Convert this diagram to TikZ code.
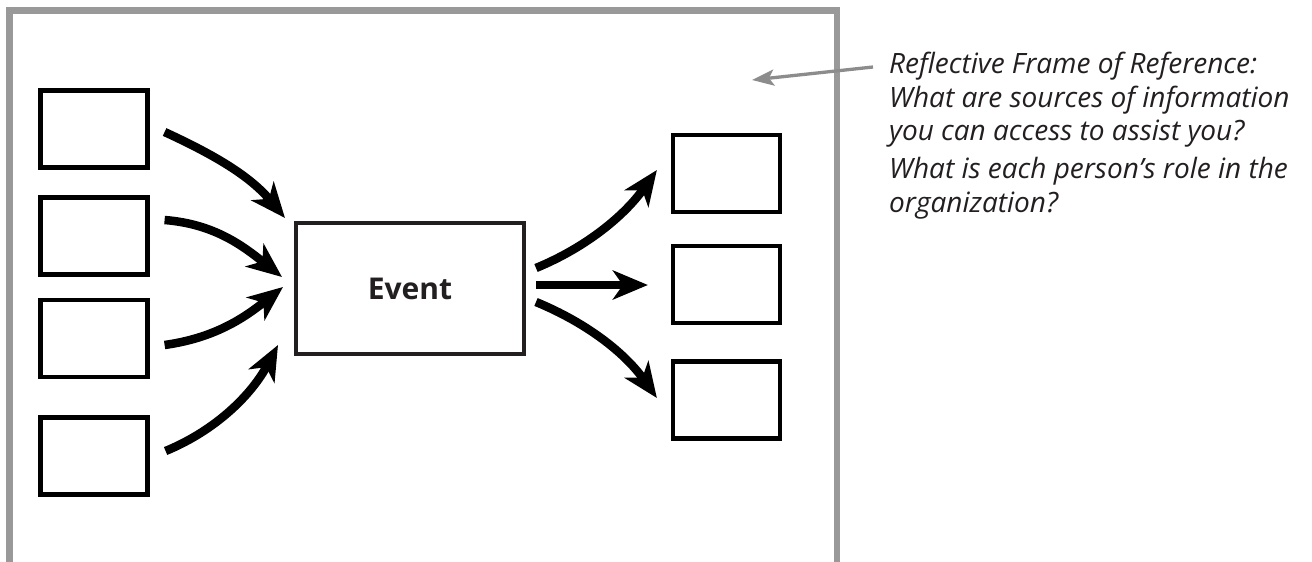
\documentclass[tikz,border=0pt]{standalone}
\usepackage{fontspec}
\setmainfont{Open Sans}
\usetikzlibrary{arrows.meta,calc}
\definecolor{framegray}{RGB}{153,153,153}
\definecolor{arrowgray}{RGB}{140,140,140}
\definecolor{boxblack}{RGB}{35,31,32}
\begin{document}
\begin{tikzpicture}[x=1pt,y=-1pt,
  smallbox/.style={draw=black,line width=4.2pt,minimum width=107pt,minimum height=77pt,inner sep=0pt},
  evbox/.style={draw=boxblack,line width=4pt,minimum width=228pt,minimum height=131pt,inner sep=0pt,
    text=boxblack,font=\fontsize{30}{36}\selectfont\bfseries},
  flow/.style={line width=8.5pt,-{Stealth[length=35pt,width=29pt,inset=10pt]}},
  note/.style={anchor=base west,inner sep=0pt,text=boxblack,font=\fontsize{28}{34}\selectfont\itshape},
  pointer/.style={draw=arrowgray,line width=3.3pt,-{Stealth[length=22pt,width=16pt,inset=5pt]}},
]
\useasboundingbox (0,0) rectangle (1312,562);
\fill[white] (0,0) rectangle (1312,562);
\draw[framegray,line width=6.5pt] (9.5,575) -- (9.5,10.5) -- (837,10.5) -- (837,575);

\node[smallbox] (b1) at (94,129) {};
\node[smallbox] (b2) at (94,236) {};
\node[smallbox] (b3) at (94,338.5) {};
\node[smallbox] (b4) at (94,456) {};
\node[evbox] (ev) at (410,288.5) {Event};
\node[smallbox] (r1) at (726.5,173.5) {};
\node[smallbox] (r2) at (726.5,284.5) {};
\node[smallbox] (r3) at (726.5,400) {};

\draw[flow] ($(b1.east)+(15,3)$) .. controls +(50,23) and +(-35,-42) .. ($(ev.north west)+(-9,-3)$);
\draw[flow] ($(b2.east)+(15,-16)$) .. controls +(50,4) and +(-39,-31) .. ($(ev.west)+(-12,-11.5)$);
\draw[flow] ($(b3.east)+(15,6.5)$) .. controls +(50,-7) and +(-39,31) .. ($(ev.west)+(-11,-1.5)$);
\draw[flow] ($(b4.east)+(16,-5)$) .. controls +(51,-21) and +(-26,49) .. ($(ev.south west)+(-16,-11)$);

\draw[flow] ($(ev.east)+(10,-20.5)$) .. controls +(51,-21) and +(-32,45) .. ($(r1.west)+(-14,-3.5)$);
\draw[flow] ($(ev.east)+(10,-3.5)$) -- ($(r2.west)+(-23,0.5)$);
\draw[flow] ($(ev.east)+(10,13.5)$) .. controls +(51,21) and +(-32,-45) .. ($(r3.west)+(-14,-2)$);

\node[note] (l1) at (889,73) {Reflective Frame of Reference:};
\node[note] (l2) at (889,107) {What are sources of information};
\node[note] (l3) at (889,140) {you can access to assist you?};
\node[note] (l4) at (889,178) {What is each person’s role in the};
\node[note] (l5) at (889,212) {organization?};

\coordinate (gtip) at (752,80);
\draw[pointer] ($(l1.base west)+(-16,-6)$) -- (gtip);
\end{tikzpicture}
\end{document}
